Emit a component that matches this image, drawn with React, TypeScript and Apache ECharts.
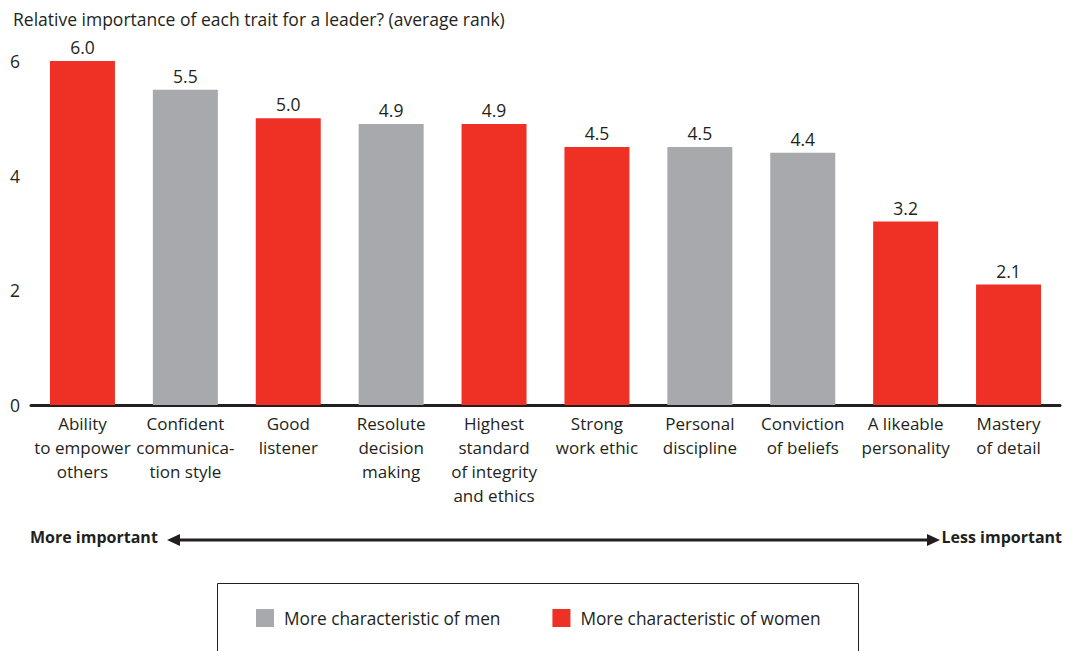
import React, { useEffect, useRef } from "react";
import * as echarts from "echarts";

const categories = [
  "Ability\nto empower\nothers",
  "Confident\ncommunica-\ntion style",
  "Good\nlistener",
  "Resolute\ndecision\nmaking",
  "Highest\nstandard\nof integrity\nand ethics",
  "Strong\nwork ethic",
  "Personal\ndiscipline",
  "Conviction\nof beliefs",
  "A likeable\npersonality",
  "Mastery\nof detail",
];
const values = [6.0, 5.5, 5.0, 4.9, 4.9, 4.5, 4.5, 4.4, 3.2, 2.1];
const group = ["w", "m", "w", "m", "w", "w", "m", "m", "w", "w"];
const menName = "More characteristic of men";
const womenName = "More characteristic of women";
const title = "Relative importance of each trait for a leader? (average rank)";

const FONT = "'Open Sans', 'Noto Sans', sans-serif";
const TXT = "#231f20";
const RED = "#ee3124";
const GRAY = "#a7a9ac";

export default function App() {
  const ref = useRef<HTMLDivElement>(null);
  useEffect(() => {
    document.body.style.margin = "0";
    const chart = echarts.init(ref.current!, null, { renderer: "svg" });
    const menData = values.map((v, i) => (group[i] === "m" ? v : "-"));
    const womenData = values.map((v, i) => (group[i] === "w" ? v : "-"));
    const labelCfg = {
      show: true,
      position: "top",
      distance: 5,
      fontSize: 17.5,
      fontFamily: FONT,
      color: TXT,
      formatter: (p: any) => Number(p.value).toFixed(1),
    };
    chart.setOption({
      animation: false,
      textStyle: { fontFamily: FONT },
      title: {
        text: title,
        left: 8,
        top: 5,
        textStyle: { fontSize: 17.5, fontWeight: "normal", color: TXT, fontFamily: FONT },
      },
      grid: { left: 31, right: 15, top: 61, bottom: 246, containLabel: false },
      legend: {
        left: 251,
        top: 604,
        itemWidth: 18,
        itemHeight: 18,
        itemGap: 52,
        icon: "rect",
        textStyle: { fontSize: 17.3, color: TXT, fontFamily: FONT, padding: [0, 0, 0, 5] },
        data: [menName, womenName],
      },
      xAxis: {
        type: "category",
        data: categories,
        axisLine: { show: true, lineStyle: { color: TXT, width: 3 } },
        axisTick: { show: false },
        axisLabel: {
          interval: 0,
          margin: 6,
          fontSize: 17,
          lineHeight: 24,
          color: TXT,
          fontFamily: FONT,
        },
      },
      yAxis: {
        type: "value",
        min: 0,
        max: 6,
        interval: 2,
        splitLine: { show: false },
        axisLine: { show: false },
        axisTick: { show: false },
        axisLabel: { fontSize: 17.5, color: TXT, fontFamily: FONT, margin: 11, align: "right", padding: [0, 0, 6, 0] },
      },
      series: [
        {
          name: menName,
          type: "bar",
          stack: "s",
          data: menData,
          barWidth: 65,
          itemStyle: { color: GRAY },
          label: labelCfg,
        },
        {
          name: womenName,
          type: "bar",
          stack: "s",
          data: womenData,
          barWidth: 65,
          itemStyle: { color: RED },
          label: labelCfg,
        },
      ],
      graphic: [
        {
          type: "text",
          left: 30,
          top: 529,
          style: { text: "More important", fontSize: 16, fontWeight: "bold", fill: TXT, fontFamily: FONT },
        },
        {
          type: "text",
          right: 13,
          top: 529,
          style: { text: "Less important", fontSize: 16, fontWeight: "bold", fill: TXT, fontFamily: FONT },
        },
        {
          type: "line",
          shape: { x1: 176, y1: 540, x2: 930, y2: 540 },
          style: { stroke: TXT, lineWidth: 3 },
        },
        {
          type: "polygon",
          shape: { points: [[167, 540], [180, 534], [180, 546]] },
          style: { fill: TXT },
        },
        {
          type: "polygon",
          shape: { points: [[940, 540], [927, 534], [927, 546]] },
          style: { fill: TXT },
        },
        {
          type: "rect",
          shape: { x: 217.5, y: 583.5, width: 641, height: 90 },
          style: { fill: "none", stroke: TXT, lineWidth: 1 },
        },
      ],
    });
    return () => chart.dispose();
  }, []);
  return (
    <div
      ref={ref}
      style={{ width: 1075, height: 651, position: "absolute", left: 0, top: 0 }}
    />
  );
}
